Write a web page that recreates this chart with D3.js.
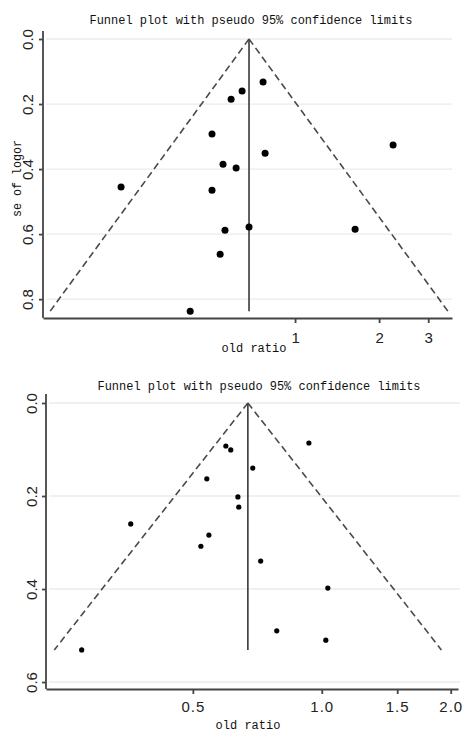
<!DOCTYPE html>
<html>
<head>
<meta charset="utf-8">
<script src="https://cdn.jsdelivr.net/npm/d3@7"></script>
<style>
  body { margin: 0; background: #fff; }
  svg { display: block; }
  .mono { font-family: "Liberation Mono", "DejaVu Sans Mono", monospace; font-size: 13.5px; fill: #111; }
  .xt { font-size: 12px; }
  .tick text { font-family: "Liberation Sans", Arial, sans-serif; font-size: 15px; fill: #222; }
</style>
</head>
<body>
<svg width="466" height="732"></svg>
<script>
// top funnel: odds ratio and standard error of log OR
var topOR = [0.768, 0.646, 0.590, 0.504, 0.552, 0.615, 0.238, 0.504, 0.561, 0.539, 0.421, 0.781, 2.245, 0.684, 1.641];
var topSE = [0.132, 0.160, 0.185, 0.292, 0.385, 0.397, 0.455, 0.465, 0.588, 0.662, 0.837, 0.351, 0.326, 0.578, 0.585];
var topPooled = 0.684;
var topXTicks = [1, 2, 3];
var topYTicks = [0, 0.2, 0.4, 0.6, 0.8];

// bottom funnel
var botOR = [0.597, 0.613, 0.933, 0.690, 0.539, 0.637, 0.640, 0.358, 0.545, 0.522, 0.275, 0.720, 1.033, 0.785, 1.022];
var botSE = [0.0925, 0.101, 0.086, 0.140, 0.163, 0.202, 0.224, 0.260, 0.284, 0.308, 0.531, 0.340, 0.398, 0.490, 0.510];
var botPooled = 0.672;
var botXTicks = [0.5, 1.0, 1.5, 2.0];
var botYTicks = [0, 0.2, 0.4, 0.6];

var title = 'Funnel plot with pseudo 95% confidence limits';
var svg = d3.select('svg');

function funnel(o) {
  var g = svg.append('g');
  var x = d3.scaleLog().domain(o.xDomain).range([o.left, o.right]);
  var y = d3.scaleLinear().domain(o.yDomain).range([o.top, o.bottom]);

  // gridlines
  g.selectAll('.grid').data(o.yTicks).enter().append('line')
    .attr('x1', o.left + 3).attr('x2', o.gridEnd)
    .attr('y1', function (d) { return y(d); })
    .attr('y2', function (d) { return y(d); })
    .attr('stroke', '#ebebeb').attr('stroke-width', 1.3);

  // pseudo 95% limits
  var seMax = d3.max(o.se);
  var lp = Math.log(o.pooled);
  var lims = [
    [[o.pooled, 0], [Math.exp(lp - 1.96 * seMax), seMax]],
    [[o.pooled, 0], [Math.exp(lp + 1.96 * seMax), seMax]]
  ];
  var line = d3.line().x(function (d) { return x(d[0]); }).y(function (d) { return y(d[1]); });
  g.selectAll('.lim').data(lims).enter().append('path')
    .attr('d', line).attr('fill', 'none')
    .attr('stroke', '#4a4a4a').attr('stroke-width', 1.6).attr('stroke-dasharray', '7,4');
  g.append('path').attr('d', line([[o.pooled, 0], [o.pooled, seMax]]))
    .attr('stroke', '#444').attr('stroke-width', 1.7);

  // studies
  g.selectAll('.dot').data(o.or).enter().append('circle')
    .attr('cx', function (d) { return x(d); })
    .attr('cy', function (d, i) { return y(o.se[i]); })
    .attr('r', o.r).attr('fill', '#000');

  // axes
  var ya = g.append('g').attr('transform', 'translate(' + o.left + ',0)')
    .call(d3.axisLeft(y).tickValues(o.yTicks).tickFormat(d3.format('.1f')).tickSize(4).tickSizeOuter(0));
  ya.select('.domain').attr('d', 'M0,' + o.axisTop + 'V' + o.bottom);
  ya.selectAll('.tick text').attr('transform', 'rotate(-90)')
    .attr('x', 0).attr('y', -o.yLab).attr('dy', 0).attr('text-anchor', 'middle');

  var xa = g.append('g').attr('transform', 'translate(0,' + o.bottom + ')')
    .call(d3.axisBottom(x).tickValues(o.xTicks).tickFormat(o.xFormat).tickSize(5).tickSizeOuter(0));
  xa.selectAll('.tick text').attr('y', o.xLab).style('letter-spacing', o.spacing);
  g.selectAll('.domain, .tick line').attr('stroke', '#444').attr('stroke-width', 1.8);

  g.append('text').attr('class', 'mono').attr('x', o.titleX).attr('y', o.titleY)
    .attr('text-anchor', 'middle').attr('textLength', 323).attr('lengthAdjust', 'spacingAndGlyphs')
    .text(title);
  g.append('text').attr('class', 'mono xt').attr('x', o.xTitleX).attr('y', o.xTitleY)
    .attr('text-anchor', 'middle').text('old ratio');
  if (o.yTitle) {
    g.append('text').attr('class', 'mono')
      .attr('transform', 'translate(21,' + ((o.top + o.bottom) / 2) + ') rotate(-90)')
      .attr('text-anchor', 'middle').attr('textLength', 77).attr('lengthAdjust', 'spacingAndGlyphs')
      .text(o.yTitle);
  }
}

funnel({
  or: topOR, se: topSE, pooled: topPooled, xTicks: topXTicks, yTicks: topYTicks,
  xDomain: [0.125, 3.65], yDomain: [0, 0.858],
  left: 43, right: 452, gridEnd: 452, top: 39, bottom: 318, axisTop: 31,
  r: 3.5, yLab: 10, xLab: 14, spacing: '0px', xFormat: d3.format('d'),
  titleX: 251, titleY: 24, xTitleX: 254, xTitleY: 352, yTitle: 'se of logor'
});

funnel({
  or: botOR, se: botSE, pooled: botPooled, xTicks: botXTicks, yTicks: botYTicks,
  xDomain: [0.227, 2.08], yDomain: [0, 0.615],
  left: 46, right: 458, gridEnd: 460, top: 403, bottom: 689, axisTop: 394,
  r: 2.6, yLab: 9, xLab: 12, spacing: '1px', xFormat: d3.format('.1f'),
  titleX: 259, titleY: 390, xTitleX: 248, xTitleY: 729, yTitle: null
});
</script>
</body>
</html>
